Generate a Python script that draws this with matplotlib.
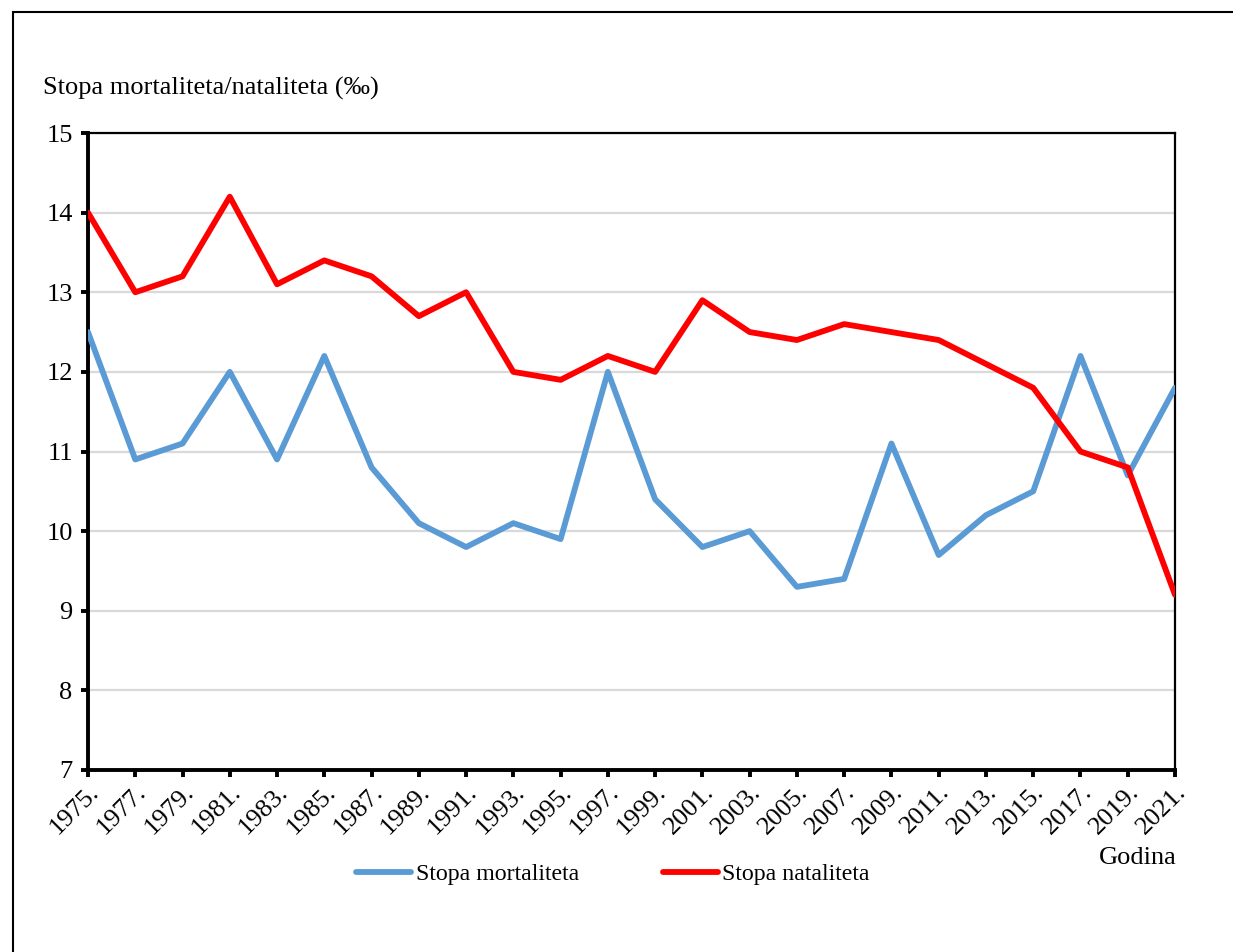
import numpy as np
import matplotlib
matplotlib.use('Agg')
import matplotlib.pyplot as plt
from matplotlib.patches import Rectangle

years = [1975, 1977, 1979, 1981, 1983, 1985, 1987, 1989, 1991, 1993, 1995, 1997,
         1999, 2001, 2003, 2005, 2007, 2009, 2011, 2013, 2015, 2017, 2019, 2021]
mortalitet = [12.5, 10.9, 11.1, 12.0, 10.9, 12.2, 10.8, 10.1, 9.8, 10.1, 9.9, 12.0,
              10.4, 9.8, 10.0, 9.3, 9.4, 11.1, 9.7, 10.2, 10.5, 12.2, 10.7, 11.8]
natalitet = [14.0, 13.0, 13.2, 14.2, 13.1, 13.4, 13.2, 12.7, 13.0, 12.0, 11.9, 12.2,
             12.0, 12.9, 12.5, 12.4, 12.6, 12.5, 12.4, 12.1, 11.8, 11.0, 10.8, 9.2]
tick_labels = [f'{y}.' for y in years]

plt.rcParams['font.family'] = ['Liberation Serif', 'DejaVu Serif']
plt.rcParams['font.size'] = 19

fig = plt.figure(figsize=(12.33, 9.52), dpi=100)
ax = fig.add_axes([88/1233, 1-770/952, (1175-88)/1233, (770-133)/952])

ax.plot(years, mortalitet, color='#5B9BD5', lw=4.2, label='Stopa mortaliteta', zorder=3,
        solid_joinstyle='round', solid_capstyle='round')
ax.plot(years, natalitet, color='#FF0000', lw=4.2, label='Stopa nataliteta', zorder=4,
        solid_joinstyle='round', solid_capstyle='round')

ax.set_xlim(1975, 2021)
ax.set_ylim(7, 15)
ax.set_yticks(range(7, 16))
ax.set_xticks(years)
ax.set_xticklabels(tick_labels, rotation=45, ha='right', va='top', rotation_mode='anchor')
ax.yaxis.grid(True, color='#d9d9d9', lw=1.6)
ax.set_axisbelow(True)

ax.spines['left'].set_linewidth(2.8)
ax.spines['bottom'].set_linewidth(2.8)
ax.spines['top'].set_linewidth(1.6)
ax.spines['right'].set_linewidth(1.6)
ax.tick_params(axis='both', direction='out', length=5, width=2.8, pad=6)
ax.tick_params(axis='x', pad=3)

fig.text(43/1233, 1-88/952, 'Stopa mortaliteta/nataliteta (‰)', va='center', ha='left')
fig.text(1177/1233, 1-858/952, 'Godina', va='center', ha='right')

leg = fig.legend(loc='center', bbox_to_anchor=(613/1233, 1-874/952), ncol=2, frameon=False,
                 fontsize=17.2, handlelength=2.3, handletextpad=0.2, columnspacing=3.5)

fig.patches.append(Rectangle((13/1233, -0.1), 1.2, 1.1 - 12/952, transform=fig.transFigure,
                             fill=False, edgecolor='black', lw=1.5))

plt.savefig('out.png', dpi=100)
